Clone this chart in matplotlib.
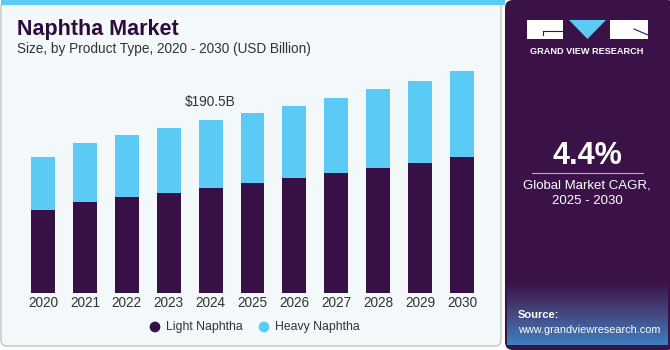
import numpy as np
import matplotlib.pyplot as plt
from matplotlib.patches import FancyBboxPatch, Rectangle, Polygon

# datos del grafico (USD Billion)
anios = ['2020', '2021', '2022', '2023', '2024', '2025', '2026', '2027', '2028', '2029', '2030']
light_naphtha = [91.7, 100.5, 106.4, 110.8, 115.9, 121.1, 126.6, 132.1, 137.6, 143.8, 149.8]
heavy_naphtha = [58.7, 64.7, 67.6, 71.2, 74.6, 77.1, 79.6, 82.6, 87.0, 90.0, 95.3]
etiqueta_2024 = '$190.5B'

morado = '#371045'
celeste = '#5BCAF5'
fondo = '#F3F8FB'
texto = '#333333'

plt.rcParams['font.family'] = ['Liberation Sans', 'DejaVu Sans']

W, H = 670, 350
fig = plt.figure(figsize=(W / 100, H / 100), dpi=100)
fig.patch.set_facecolor('white')

# capa de fondo en pixeles
bg = fig.add_axes([0, 0, 1, 1])
bg.set_xlim(0, W)
bg.set_ylim(H, 0)
bg.axis('off')

bg.add_patch(FancyBboxPatch((1, 1), 500, 345, boxstyle='round,pad=0,rounding_size=6',
                            facecolor=fondo, edgecolor='#CCCCCC', linewidth=1.2))
bg.add_patch(Rectangle((1, 0), 504, 5, facecolor=celeste, edgecolor='none'))
bg.add_patch(FancyBboxPatch((505, 0), 170, 350, boxstyle='round,pad=0,rounding_size=8',
                            facecolor='#3A1248', edgecolor='none'))

# degradado del cuadro de la fuente
grad = np.linspace(0, 1, 60).reshape(-1, 1)
cmap = plt.matplotlib.colors.LinearSegmentedColormap.from_list('g', ['#3A1248', '#45477F', '#3E7FC0'])
bg.imshow(grad, cmap=cmap, extent=(507, 668, 345, 282), aspect='auto', zorder=1)

# logo
bg.add_patch(Rectangle((527, 20), 36, 19, facecolor='white', edgecolor='none', zorder=2))
bg.plot([543, 563], [31, 31], color='#3A1248', lw=0.8, zorder=3)
bg.plot([543, 543], [31, 35], color='#3A1248', lw=0.8, zorder=3)
bg.add_patch(Polygon([(569, 20), (606, 20), (587.5, 39)], facecolor=celeste, edgecolor='none', zorder=2))
bg.add_patch(Rectangle((610, 20), 38, 19, facecolor='white', edgecolor='none', zorder=2))
bg.plot([634, 648], [29, 35], color='#3A1248', lw=0.8, zorder=3)
bg.text(587, 51, 'GRAND VIEW RESEARCH', color='white', fontsize=6.6, fontweight='bold',
        ha='center', va='center')

# CAGR
bg.text(587, 156, '4.4%', color='white', fontsize=22, fontweight='bold', ha='center', va='center')
bg.plot([532, 643], [173, 173], color='#BBAACC', lw=0.8)
bg.text(587, 186, 'Global Market CAGR,', color='white', fontsize=9.5, ha='center', va='center')
bg.text(587, 201, '2025 - 2030', color='white', fontsize=9.5, ha='center', va='center')

# fuente
bg.text(518, 315, 'Source:', color='white', fontsize=8, fontweight='bold', ha='left', va='center', zorder=3)
bg.text(518, 330, 'www.grandviewresearch.com', color='white', fontsize=7.8, ha='left', va='center', zorder=3)

# titulos
bg.text(17, 29, 'Naphtha Market', color='#2E0B3D', fontsize=15.5, fontweight='bold', ha='left', va='center')
bg.text(17, 49, 'Size, by Product Type, 2020 - 2030 (USD Billion)', color=texto, fontsize=9.8,
        ha='left', va='center')

# grafico de barras
ax = fig.add_axes([17.9 / W, (H - 293.3) / H, 469.2 / W, 236.1 / H])
ax.patch.set_alpha(0)
x = np.arange(len(anios))
ax.bar(x, light_naphtha, width=0.57, color=morado, label='Light Naphtha')
ax.bar(x, heavy_naphtha, width=0.57, bottom=light_naphtha, color=celeste, label='Heavy Naphtha')
ax.set_xlim(-0.6, 10.6)
ax.set_ylim(0, 260)
ax.set_xticks(x)
ax.set_xticklabels(anios, fontsize=9.8, color=texto)
ax.tick_params(axis='x', length=0, pad=2)
ax.set_yticks([])
for s in ax.spines.values():
    s.set_visible(False)

total_2024 = light_naphtha[4] + heavy_naphtha[4]
ax.annotate(etiqueta_2024, (4, total_2024), xytext=(0, 8), textcoords='offset points',
            ha='center', va='bottom', fontsize=9.8, color=texto)

# leyenda
bg.scatter([155, 264], [327, 327], s=45, color=[morado, celeste], zorder=3)
bg.text(166, 327, 'Light Naphtha', fontsize=8.8, color=texto, ha='left', va='center')
bg.text(275, 327, 'Heavy Naphtha', fontsize=8.8, color=texto, ha='left', va='center')

fig.savefig('out.png', dpi=100)
